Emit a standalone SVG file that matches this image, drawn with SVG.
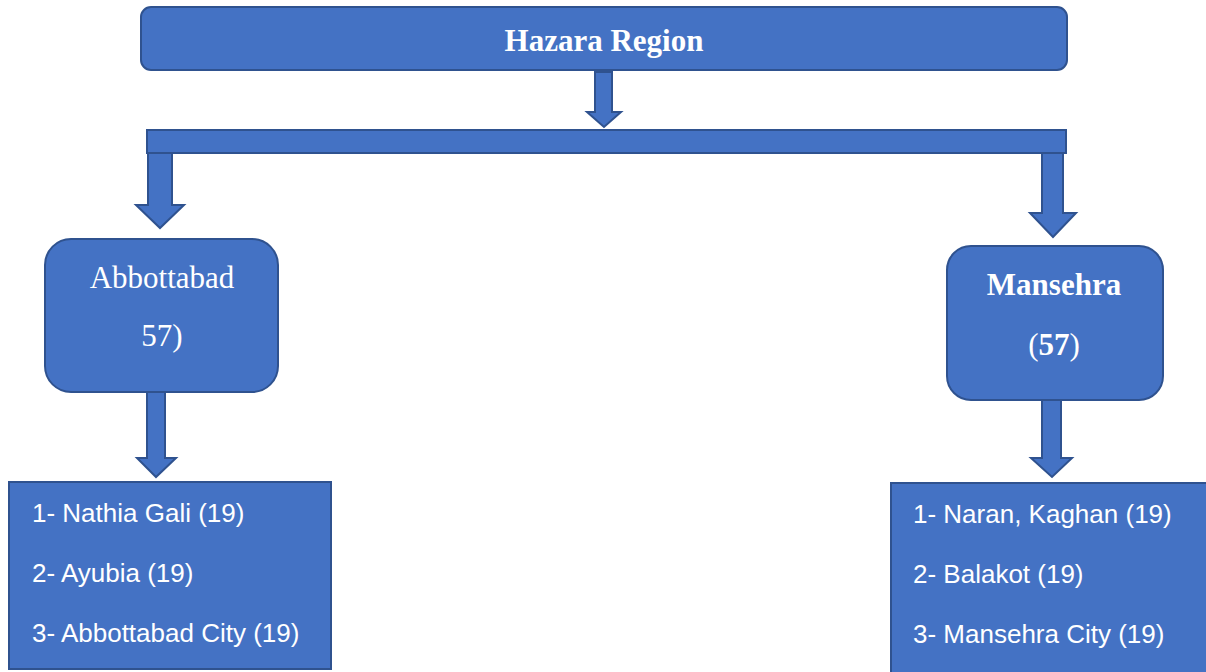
<svg xmlns="http://www.w3.org/2000/svg" width="1206" height="672" viewBox="0 0 1206 672">
<style>
.shape{fill:#4472C4;stroke:#2F528F;stroke-width:2;stroke-linejoin:miter}
.serif{font-family:"Liberation Serif","Times New Roman",serif;fill:#FFFFFF;font-size:31px;text-anchor:middle}
.b{font-weight:bold}
.sans{font-family:"Liberation Sans",Arial,sans-serif;fill:#FFFFFF;font-size:26px}
</style>
<rect width="1206" height="672" fill="#FFFFFF"/>
<g id="connectors">
<path class="shape" d="M595,72 H612 V112 H621 L604,127 L587,112 H595 Z"/>
<path class="shape" d="M148,153 H172 V205 H184 L160,228 L136,205 H148 Z"/>
<path class="shape" d="M1042,153 H1063 V213 H1076 L1053,237 L1030,213 H1042 Z"/>
<rect class="shape" x="147" y="130" width="919" height="23"/>
<path class="shape" d="M147,392 H165 V458 H176 L156,477 L137,458 H147 Z"/>
<path class="shape" d="M1042,400 H1061 V458 H1072 L1052,477 L1031,458 H1042 Z"/>
</g>
<g id="hazara">
<rect class="shape" x="141" y="7" width="926" height="63" rx="10"/>
<text class="serif b" x="604" y="51">Hazara Region</text>
</g>
<g id="abbottabad">
<rect class="shape" x="45" y="239" width="233" height="153" rx="26"/>
<text class="serif" x="162" y="288">Abbottabad</text>
<text class="serif" x="162" y="346">57)</text>
</g>
<g id="mansehra">
<rect class="shape" x="947" y="246" width="216" height="154" rx="24"/>
<text class="serif b" x="1054" y="295">Mansehra</text>
<text class="serif" x="1054" y="355">(<tspan class="b">57</tspan>)</text>
</g>
<g id="abbottabad-list">
<rect class="shape" x="9" y="482" width="322" height="187"/>
<text class="sans" x="32" y="522">1- Nathia Gali (19)</text>
<text class="sans" x="32" y="582">2- Ayubia (19)</text>
<text class="sans" x="32" y="642">3- Abbottabad City (19)</text>
</g>
<g id="mansehra-list">
<rect class="shape" x="891" y="483" width="330" height="200"/>
<text class="sans" x="913" y="523">1- Naran, Kaghan (19)</text>
<text class="sans" x="913" y="583">2- Balakot (19)</text>
<text class="sans" x="913" y="643">3- Mansehra City (19)</text>
</g>
</svg>
